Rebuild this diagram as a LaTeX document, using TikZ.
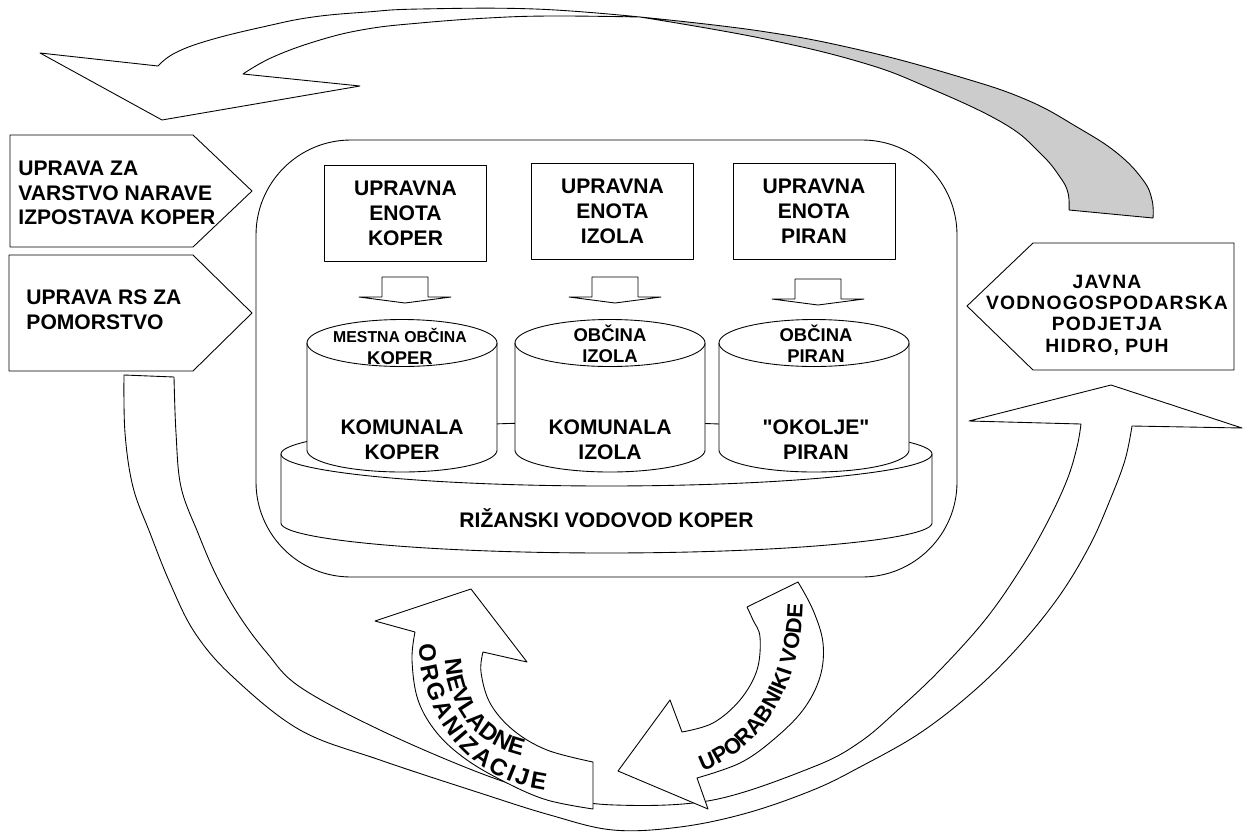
\documentclass[tikz,border=0pt]{standalone}
\usepackage{fontspec}
\setmainfont{Liberation Sans}[Ligatures=TeXOff]
\usetikzlibrary{decorations.text}
\begin{document}
\begin{tikzpicture}[x=0.02cm,y=-0.02cm,line width=0.5pt,line join=round,
  shp/.style={draw=black,fill=white},
  grayshp/.style={draw=black,fill=black!20},
  ubox/.style={draw,fill=white,minimum width=3.24cm,minimum height=1.92cm,inner sep=0,align=center,font=\bfseries\fontsize{12}{14.2}\selectfont},
  lbl/.style={inner sep=0,align=center,font=\bfseries\fontsize{12}{14.2}\selectfont},
  lbll/.style={inner sep=0,align=left,font=\bfseries\fontsize{12}{14}\selectfont},
  toplbl/.style={inner sep=0,align=center,font=\bfseries\fontsize{10.5}{12}\selectfont}]
\useasboundingbox (0,0) rectangle (1243,832);

% big circular arrow around the bottom
\draw[shp] (124,375) -- (174,377)
  -- plot[smooth,tension=0.6] coordinates {(174,377) (176,433) (181,487) (198,533) (217,577) (240,617) (267,653) (300,687) (380,730) (480,773) (550,795) (615,805) (713,800) (813,767) (860,742) (900,708) (940,670) (985,620) (1020,570) (1047,523) (1067,480) (1077,447) (1081,424)}
  -- (969,421) -- (1111,385) -- (1242,428) -- (1132,426)
  -- plot[smooth,tension=0.6] coordinates {(1132,426) (1125,460) (1110,500) (1090,545) (1060,595) (1020,645) (975,690) (920,733) (860,767) (813,790) (747,813) (680,827) (613,830) (550,815) (480,793) (380,760) (300,730) (233,677) (195,633) (170,583) (150,533) (133,487) (125,433) (124,375)}
  -- cycle;

% top curved arrow: white front part
\draw[shp] (158,66) -- (40,53) -- (162,120) -- (360,86) -- (243,74)
  -- plot[smooth,tension=0.7] coordinates {(243,74) (273,57) (320,40) (367,29) (420,23) (488,18) (551,16) (640,17)}
  -- plot[smooth,tension=0.7] coordinates {(640,17) (535,9) (420,9) (367,12) (313,17) (267,26) (210,40) (175,53) (158,66)}
  -- cycle;
% top curved arrow: grey back part
\draw[grayshp] (640,17)
  -- plot[smooth,tension=0.7] coordinates {(640,17) (760,31) (860,50) (960,77) (1027,100) (1077,127) (1117,153) (1143,180) (1152,200) (1153,218)}
  -- (1069,210)
  -- plot[smooth,tension=0.7] coordinates {(1069,210) (1068,193) (1060,177) (1040,153) (1003,123) (927,87) (860,62) (760,38) (640,17)}
  -- cycle;

% side pentagons
\draw[shp] (10,135) -- (193,135) -- (252,191) -- (193,247) -- (10,247) -- cycle;
\node[lbll,anchor=west] (uzvn) at (18,193) {UPRAVA ZA\\VARSTVO NARAVE\\IZPOSTAVA KOPER};
\draw[shp] (9,255) -- (193,255) -- (252,313) -- (193,371) -- (9,371) -- cycle;
\node[lbll,anchor=west] (urs) at (26,310) {UPRAVA RS ZA\\POMORSTVO};
\draw[shp] (1234,243) -- (1033,243) -- (967,306) -- (1033,370) -- (1234,370) -- cycle;
\node[inner sep=0,align=center,font=\bfseries\fontsize{11}{12.1}\selectfont\addfontfeature{LetterSpace=6}] (jvp) at (1107,315) {JAVNA\\VODNOGOSPODARSKA\\PODJETJA\\HIDRO, PUH};

% container
\draw[shp,rounded corners=1.9cm] (256,140) rectangle (957,577);

% administrative units
\node[ubox] (ue1) at (405.5,213) {UPRAVNA\\ENOTA\\KOPER};
\node[ubox] (ue2) at (612.5,211.5) {UPRAVNA\\ENOTA\\IZOLA};
\node[ubox] (ue3) at (814,211) {UPRAVNA\\ENOTA\\PIRAN};

% small block arrows
\foreach \tx/\ty in {405/303,615/303,818/305}
  \draw[shp] (\tx-23,\ty-26) -- (\tx+23,\ty-26) -- (\tx+23,\ty-6) -- (\tx+46,\ty-6) -- (\tx,\ty) -- (\tx-46,\ty-6) -- (\tx-23,\ty-6) -- cycle;

% base cylinder
\draw[shp] (281,454) -- (281,523)
  -- plot[domain=180:360,samples=90] ({606.5+325.5*cos(\x)},{523-30*sin(\x)})
  -- (932,454)
  -- plot[domain=0:180,samples=90] ({606.5+325.5*cos(\x)},{454-32*sin(\x)})
  -- cycle;
\draw plot[domain=180:360,samples=90] ({606.5+325.5*cos(\x)},{454-32*sin(\x)});
\node[lbl] (riz) at (606.5,518) {RIŽANSKI VODOVOD KOPER};

% municipality cylinders
\foreach \cx in {402,610,814} {
  \draw[shp] (\cx-95,343) -- (\cx-95,450)
    -- plot[domain=180:360,samples=60] ({\cx+95*cos(\x)},{450-22*sin(\x)})
    -- (\cx+95,343)
    -- plot[domain=0:180,samples=60] ({\cx+95*cos(\x)},{343-23.5*sin(\x)})
    -- cycle;
  \draw plot[domain=180:360,samples=60] ({\cx+95*cos(\x)},{343-23.5*sin(\x)});
}
\node[toplbl] (ob1) at (400,346.5) {{\fontsize{9}{12}\selectfont MESTNA OBČINA}\\KOPER};
\node[toplbl] (ob2) at (610,344) {OBČINA\\IZOLA};
\node[toplbl] (ob3) at (816,344) {OBČINA\\PIRAN};
\node[lbl] (k1) at (402,439.5) {KOMUNALA\\KOPER};
\node[lbl] (k2) at (610,439.5) {KOMUNALA\\IZOLA};
\node[lbl] (k3) at (816,439.5) {"OKOLJE"\\PIRAN};

% NGO arrow
\draw[shp] (471,589) -- (527,662) -- (483,652)
  -- plot[smooth,tension=0.6] coordinates {(483,652) (481,672) (490,703) (513,730) (547,750) (593,762)}
  -- (593,809)
  -- plot[smooth,tension=0.6] coordinates {(593,809) (547,800) (507,783) (467,760) (437,733) (418,700) (412,660) (415,632)}
  -- (375,621) -- cycle;

% water users arrow
\draw[shp] (747,607) -- (798,582)
  -- plot[smooth,tension=0.6] coordinates {(798,582) (813,610) (823,643) (820,677) (803,710) (773,740) (740,763) (697,778)}
  -- (708,809) -- (618,771) -- (670,700) -- (682,732)
  -- plot[smooth,tension=0.6] coordinates {(682,732) (713,723) (740,700) (757,670) (760,637) (753,620) (747,607)}
  -- cycle;

% curved texts (plain cm coordinates)
\begin{scope}[x=1cm,y=1cm]
\path[decorate,decoration={text along path,text={|\bfseries\fontsize{13.5}{15}\selectfont|NEVLADNE},text align={fit to path}}]
  (8.90,-13.20) .. controls (8.96,-14.24) and (9.64,-14.96) .. (10.44,-15.12);
\path[decorate,decoration={text along path,text={|\bfseries\fontsize{13.5}{15}\selectfont|ORGANIZACIJE},text align={fit to path}}]
  (8.38,-12.90) .. controls (8.44,-14.40) and (9.40,-15.60) .. (10.90,-15.80);
\path[decorate,decoration={text along path,text={|\bfseries\fontsize{12.5}{14}\selectfont|UPORABNIKI VODE},text align={fit to path}}]
  (14.06,-15.42) .. controls (15.20,-15.02) and (16.02,-13.80) .. (16.06,-12.08);
\end{scope}
\end{tikzpicture}
\end{document}
